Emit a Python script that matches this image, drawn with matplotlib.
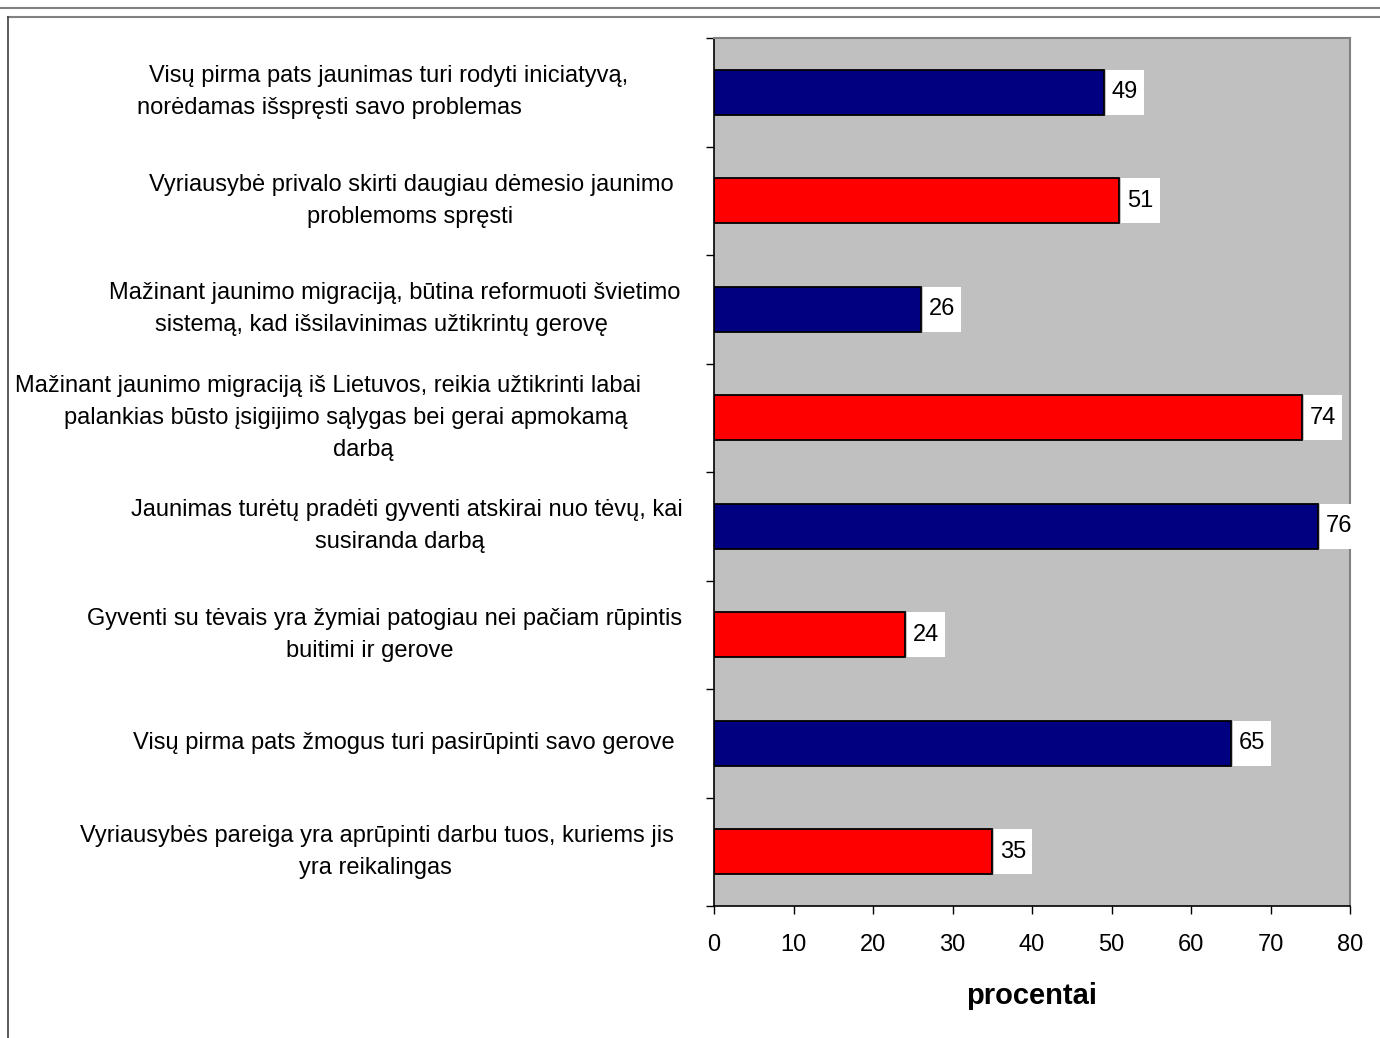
import matplotlib.pyplot as plt
from matplotlib.patches import Rectangle
from matplotlib.lines import Line2D

plt.rcParams['font.family'] = ['Liberation Sans', 'DejaVu Sans']

labels = [
    "Visų pirma pats jaunimas turi rodyti iniciatyvą,\nnorėdamas išspręsti savo problemas",
    "Vyriausybė privalo skirti daugiau dėmesio jaunimo\nproblemoms spręsti",
    "Mažinant jaunimo migraciją, būtina reformuoti švietimo\nsistemą, kad išsilavinimas užtikrintų gerovę",
    "Mažinant jaunimo migraciją iš Lietuvos, reikia užtikrinti labai\npalankias būsto įsigijimo sąlygas bei gerai apmokamą\ndarbą",
    "Jaunimas turėtų pradėti gyventi atskirai nuo tėvų, kai\nsusiranda darbą",
    "Gyventi su tėvais yra žymiai patogiau nei pačiam rūpintis\nbuitimi ir gerove",
    "Visų pirma pats žmogus turi pasirūpinti savo gerove",
    "Vyriausybės pareiga yra aprūpinti darbu tuos, kuriems jis\nyra reikalingas",
]
values = [49, 51, 26, 74, 76, 24, 65, 35]
colors = ["#000080", "#FF0000"] * 4

# horizontal centre of every label line, px (Excel wraps them unevenly)
line_x = [[389, 329], [411, 410], [395, 381], [328, 346, 363],
          [407, 400], [385, 370], [404], [377, 375]]
line_step = 32

W, H = 1380, 1038
FS = 17
fig = plt.figure(figsize=(W / 100, H / 100), dpi=100)
ax = fig.add_axes([714 / W, 1 - 906 / H, (1350 - 714) / W, (906 - 38) / H])
ax.set_facecolor("#C0C0C0")

ypos = list(range(len(values)))
bar_h = 0.415
ax.barh(ypos, values, height=bar_h, color=colors, edgecolor="black", linewidth=1.3, zorder=2)

# white boxes with values
box_w = 4.8
for y, v in zip(ypos, values):
    ax.add_patch(Rectangle((v + 0.25, y - bar_h / 2), box_w, bar_h, facecolor="white",
                           edgecolor="none", zorder=3, clip_on=False))
    ax.text(v + 0.25 + box_w / 2, y, str(v), ha="center", va="center", fontsize=FS, zorder=4)

ax.set_xlim(0, 80)
ax.set_ylim(len(values) - 0.5, -0.5)
ax.set_xticks(range(0, 81, 10))
ax.tick_params(axis="x", direction="out", length=6, width=1, pad=14, labelsize=FS)
ax.set_yticks([i - 0.5 for i in range(len(values) + 1)])
ax.set_yticklabels([])
ax.tick_params(axis="y", direction="out", length=6, width=1)

for s in ["left", "bottom"]:
    ax.spines[s].set_color("black")
    ax.spines[s].set_linewidth(1.2)
for s in ["top", "right"]:
    ax.spines[s].set_color("#808080")
    ax.spines[s].set_linewidth(1.5)

ax.set_xlabel("procentai", fontsize=21, fontweight="bold", labelpad=19)

for y, lab, xs in zip(ypos, labels, line_x):
    yc = ax.transData.transform((0, y))[1]
    lines = lab.split("\n")
    n = len(lines)
    for i, (ln, lx) in enumerate(zip(lines, xs)):
        yl = yc + ((n - 1) / 2 - i) * line_step
        fig.text(lx / W, yl / H, ln, ha="center", va="center", fontsize=FS)

# outer frame
fig.add_artist(Line2D([0, 1], [1 - 8 / H, 1 - 8 / H], color="#808080", lw=1.5))
fig.add_artist(Line2D([8 / W, 1], [1 - 17 / H, 1 - 17 / H], color="#808080", lw=1.5))
fig.add_artist(Line2D([8 / W, 8 / W], [0, 1 - 17 / H], color="#404040", lw=1.2))

fig.savefig("out.png", dpi=100)
